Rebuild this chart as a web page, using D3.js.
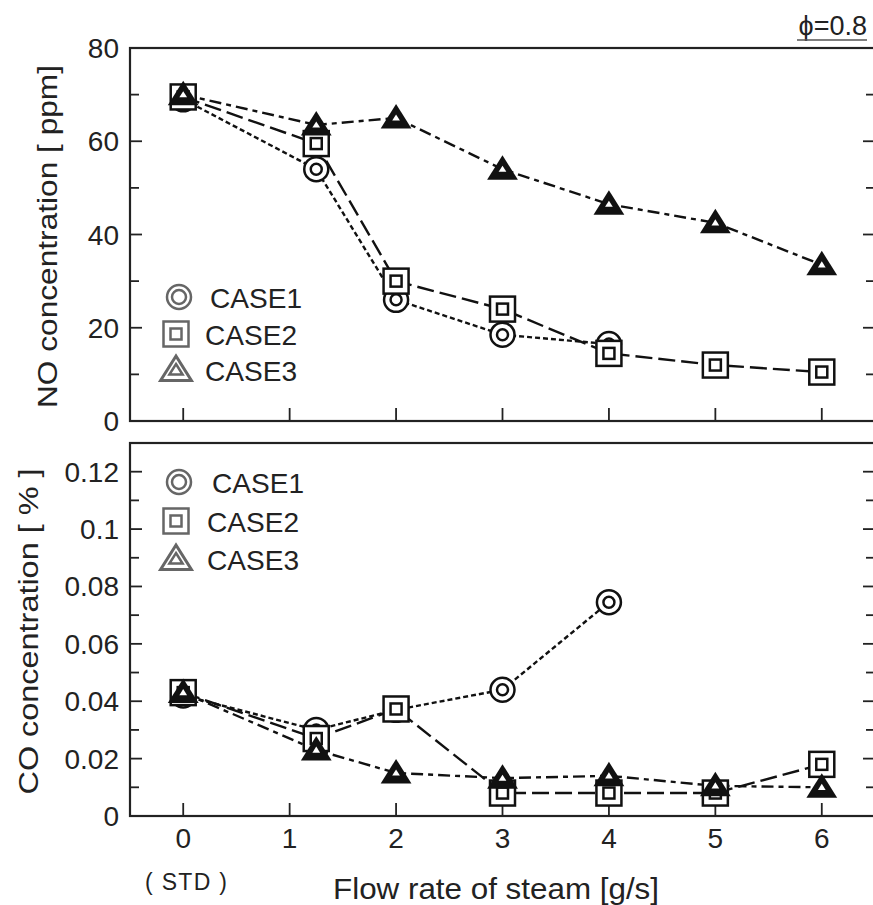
<!DOCTYPE html>
<html>
<head>
<meta charset="utf-8">
<script src="https://cdn.jsdelivr.net/npm/d3@7"></script>
<style>
  body { margin: 0; background: #fff; }
  text { font-family: "Liberation Sans", Arial, sans-serif; fill: #222; }
</style>
</head>
<body>
<div class="chart"></div>
<script>
// data
const flowRate = [0, 1.25, 2, 3, 4, 5, 6];
const xTicks = [0, 1, 2, 3, 4, 5, 6];

const noCase1 = [69, 54, 26, 18.5, 16.5];
const noCase2 = [69.5, 59.5, 30, 24, 14.5, 12, 10.5];
const noCase3 = [70, 63.5, 65, 54, 46.5, 42.5, 33.5];

const coCase1 = [0.042, 0.030, 0.037, 0.044, 0.0745];
const coCase2 = [0.043, 0.027, 0.0373, 0.008, 0.008, 0.008, 0.018];
const coCase3 = [0.043, 0.023, 0.015, 0.0132, 0.014, 0.0105, 0.010];

const noTicks = [0, 20, 40, 60, 80];
const coTicks = [0, 0.02, 0.04, 0.06, 0.08, 0.1, 0.12];
const caseNames = ['CASE1', 'CASE2', 'CASE3'];

let width = 873, height = 905;

let svg = d3.select('.chart')
  .append('svg')
    .attr('width', width)
    .attr('height', height);

let x = d3.scaleLinear().domain([-0.5, 6.5]).range([130, 875]);

const styles = [
  { shape: 'circle', dash: '5,3' },
  { shape: 'square', dash: '17,6' },
  { shape: 'triangle', dash: '12,5,5,5' }
];

function drawMarker(g, shape, cx, cy, legend) {
  const col = legend ? '#666' : '#111';
  if (shape === 'circle') {
    g.append('circle').attr('cx', cx).attr('cy', cy).attr('r', 12)
      .attr('fill', '#fff').attr('stroke', col).attr('stroke-width', 2.5);
    g.append('circle').attr('cx', cx).attr('cy', cy).attr('r', legend ? 7 : 5.5)
      .attr('fill', 'none').attr('stroke', col).attr('stroke-width', 2.5);
  } else if (shape === 'square') {
    g.append('rect').attr('x', cx - 12.5).attr('y', cy - 12.5).attr('width', 25).attr('height', 25)
      .attr('fill', '#fff').attr('stroke', col).attr('stroke-width', 2.5);
    g.append('rect').attr('x', cx - 5.5).attr('y', cy - 5.5).attr('width', 11).attr('height', 11)
      .attr('fill', 'none').attr('stroke', col).attr('stroke-width', 2.5);
  } else {
    const tri = (s) => `M${cx},${cy - s} L${cx + s * 1.1},${cy + s * 0.75} L${cx - s * 1.1},${cy + s * 0.75}Z`;
    if (legend) {
      g.append('path').attr('d', tri(14)).attr('fill', '#fff').attr('stroke', col).attr('stroke-width', 3);
      g.append('path').attr('d', tri(6)).attr('fill', 'none').attr('stroke', col).attr('stroke-width', 2.5);
    } else {
      g.append('path').attr('d', tri(14)).attr('fill', '#111');
      g.append('path').attr('d', tri(3.5)).attr('fill', '#fff');
    }
  }
}

function panel(top, bottom, y, ticks, minorStep, series, fmt, legendY, legendX, title, titleX, titleLen) {
  const g = svg.append('g');

  // minor + major ticks, left and right, pointing in
  const [y0, y1] = y.domain();
  const minors = d3.range(y0, y1 + 1e-9, minorStep);
  minors.forEach(v => {
    const isMajor = ticks.some(t => Math.abs(t - v) < 1e-9);
    const len = isMajor ? 12 : 9;
    g.append('line').attr('x1', 130).attr('x2', 130 + len)
      .attr('y1', y(v)).attr('y2', y(v)).attr('stroke', '#222').attr('stroke-width', 1.8);
    g.append('line').attr('x1', 875).attr('x2', 875 - len)
      .attr('y1', y(v)).attr('y2', y(v)).attr('stroke', '#222').attr('stroke-width', 1.8);
  });
  ticks.forEach(v => {
    g.append('text').attr('x', 119).attr('y', y(v) + 10)
      .attr('text-anchor', 'end').attr('font-size', 28).text(fmt(v));
  });
  xTicks.forEach(v => {
    g.append('line').attr('x1', x(v)).attr('x2', x(v))
      .attr('y1', bottom).attr('y2', bottom - 13).attr('stroke', '#222').attr('stroke-width', 1.8);
  });

  g.append('rect').attr('x', 130).attr('y', top).attr('width', 745).attr('height', bottom - top)
    .attr('fill', 'none').attr('stroke', '#222').attr('stroke-width', 2.2);

  g.append('text')
    .attr('transform', `translate(${titleX},${(top + bottom) / 2 + 2}) rotate(-90)`)
    .attr('text-anchor', 'middle').attr('font-size', 27)
    .attr('textLength', titleLen).attr('lengthAdjust', 'spacingAndGlyphs')
    .text(title);

  const line = d3.line().x((d, i) => x(flowRate[i])).y(d => y(d));

  series.forEach((s, k) => {
    g.append('path').datum(s).attr('d', line)
      .attr('fill', 'none').attr('stroke', '#111').attr('stroke-width', 2.4)
      .attr('stroke-dasharray', styles[k].dash);
  });
  series.forEach((s, k) => {
    s.forEach((v, i) => drawMarker(g, styles[k].shape, x(flowRate[i]), y(v), false));
  });

  // legend
  caseNames.forEach((name, k) => {
    const ly = legendY[k];
    drawMarker(g, styles[k].shape, k === 0 ? 179 : 176, ly, true);
    g.append('text').attr('x', legendX[k]).attr('y', ly + 11)
      .attr('font-size', 28).attr('textLength', 92).attr('lengthAdjust', 'spacingAndGlyphs')
      .text(name);
  });
}

let yNO = d3.scaleLinear().domain([0, 80]).range([421, 48]);
let yCO = d3.scaleLinear().domain([0, 0.13]).range([816, 443]);

panel(48, 421, yNO, noTicks, 10, [noCase1, noCase2, noCase3], d => d,
  [297, 334, 370], [210, 205, 205], 'NO concentration [ ppm]', 57, 343);
panel(443, 816, yCO, coTicks, 0.01, [coCase1, coCase2, coCase3], d => d3.format('~g')(d),
  [482, 521, 559], [212, 207, 207], 'CO concentration [ % ]', 38, 326);

// x tick labels
xTicks.forEach(v => {
  svg.append('text').attr('x', x(v)).attr('y', 848)
    .attr('text-anchor', 'middle').attr('font-size', 28).text(v);
});
svg.append('text').attr('x', 186).attr('y', 890).attr('text-anchor', 'middle')
  .attr('font-size', 23).attr('textLength', 82).attr('lengthAdjust', 'spacing')
  .text('( STD )');
svg.append('text').attr('x', 496).attr('y', 899).attr('text-anchor', 'middle')
  .attr('font-size', 30).attr('textLength', 326).attr('lengthAdjust', 'spacingAndGlyphs')
  .text('Flow rate of steam [g/s]');

// phi label
svg.append('text').attr('x', 867).attr('y', 35).attr('text-anchor', 'end')
  .attr('font-size', 27).text('\u03d5=0.8');
svg.append('line').attr('x1', 797).attr('x2', 867).attr('y1', 40).attr('y2', 40)
  .attr('stroke', '#555').attr('stroke-width', 1.5);
</script>
</body>
</html>
